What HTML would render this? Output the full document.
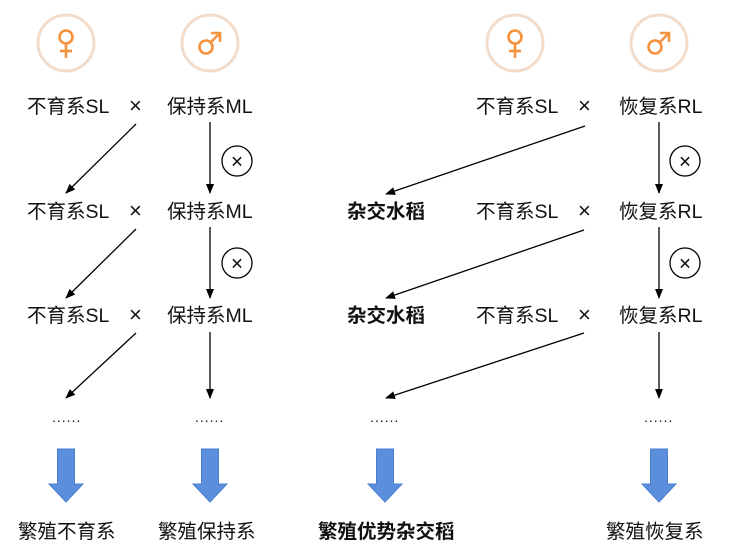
<!DOCTYPE html>
<html><head><meta charset="utf-8"><style>
html,body{margin:0;padding:0;background:#fff;}
svg{display:block;}
text{font-family:"Liberation Sans","Noto Sans CJK SC",sans-serif;font-size:19.5px;fill:#111;}
.b{font-weight:bold;}
.x{font-size:22px;}
.d{font-size:14px;letter-spacing:1px;}
</style></head><body>
<svg width="731" height="544" viewBox="0 0 731 544" xmlns="http://www.w3.org/2000/svg">
<defs>
<marker id="ah" markerWidth="10" markerHeight="10" refX="9" refY="5" orient="auto" markerUnits="userSpaceOnUse">
<path d="M0,1 L10,5 L0,9 Z" fill="#000"/></marker>
<g id="fem"><circle r="28" fill="#fff" stroke="#f2dccb" stroke-width="3"/>
<circle cx="0" cy="-6" r="6.5" fill="none" stroke="#f5923e" stroke-width="2.6"/>
<line x1="0" y1="0.5" x2="0" y2="15" stroke="#f5923e" stroke-width="2.6"/>
<line x1="-6" y1="8" x2="6" y2="8" stroke="#f5923e" stroke-width="2.6"/></g>
<g id="mal"><circle r="28" fill="#fff" stroke="#f2dccb" stroke-width="3"/>
<circle cx="-4" cy="4" r="6.5" fill="none" stroke="#f5923e" stroke-width="2.6"/>
<line x1="0.5" y1="-0.5" x2="9" y2="-9" stroke="#f5923e" stroke-width="2.6"/>
<polyline points="1,-10 10,-10 10,-1" fill="none" stroke="#f5923e" stroke-width="2.6"/></g>
<g id="cx"><circle r="15" fill="#fff" stroke="#000" stroke-width="1.3"/>
<text x="0" y="7.5" text-anchor="middle" style="font-size:21px">×</text></g>
<g id="big"><path d="M-8.5,0 H8.5 V35 H17 L0,53 L-17,35 H-8.5 Z" fill="#5b8fdb" stroke="#4a7fcf" stroke-width="1"/></g>
</defs>

<use href="#fem" x="66" y="43"/><use href="#mal" x="210" y="43"/>
<use href="#fem" x="515" y="43"/><use href="#mal" x="659" y="43"/>

<g>
<text x="27" y="113">不育系SL</text><text x="129" y="113" class="x">×</text><text x="167" y="113">保持系ML</text>
<text x="27" y="218">不育系SL</text><text x="129" y="218" class="x">×</text><text x="167" y="218">保持系ML</text>
<text x="27" y="322">不育系SL</text><text x="129" y="322" class="x">×</text><text x="167" y="322">保持系ML</text>

<text x="476" y="113">不育系SL</text><text x="578" y="113" class="x">×</text><text x="619" y="113">恢复系RL</text>
<text x="347" y="218" class="b">杂交水稻</text>
<text x="476" y="218">不育系SL</text><text x="578" y="218" class="x">×</text><text x="619" y="218">恢复系RL</text>
<text x="347" y="322" class="b">杂交水稻</text>
<text x="476" y="322">不育系SL</text><text x="578" y="322" class="x">×</text><text x="619" y="322">恢复系RL</text>

<text x="52" y="422" class="d">......</text>
<text x="195" y="422" class="d">......</text>
<text x="370" y="422" class="d">......</text>
<text x="644" y="422" class="d">......</text>
</g>

<g stroke="#000" stroke-width="1.3" fill="none" marker-end="url(#ah)">
<line x1="136" y1="124" x2="66" y2="193"/>
<line x1="210" y1="122" x2="210" y2="193"/>
<line x1="136" y1="229" x2="66" y2="298"/>
<line x1="210" y1="227" x2="210" y2="298"/>
<line x1="136" y1="333" x2="66" y2="398"/>
<line x1="210" y1="332" x2="210" y2="398"/>

<line x1="585" y1="126" x2="386" y2="194"/>
<line x1="659" y1="122" x2="659" y2="193"/>
<line x1="584" y1="230" x2="386" y2="298"/>
<line x1="659" y1="227" x2="659" y2="298"/>
<line x1="584" y1="333" x2="386" y2="398"/>
<line x1="659" y1="332" x2="659" y2="398"/>
</g>

<use href="#cx" x="237" y="161"/><use href="#cx" x="237" y="263"/>
<use href="#cx" x="685" y="161"/><use href="#cx" x="685" y="263"/>

<use href="#big" x="66" y="449"/><use href="#big" x="210" y="449"/>
<use href="#big" x="385" y="449"/><use href="#big" x="659" y="449"/>

<text x="18" y="538">繁殖不育系</text>
<text x="158" y="538">繁殖保持系</text>
<text x="318" y="538" class="b">繁殖优势杂交稻</text>
<text x="606" y="538">繁殖恢复系</text>
</svg>
</body></html>
